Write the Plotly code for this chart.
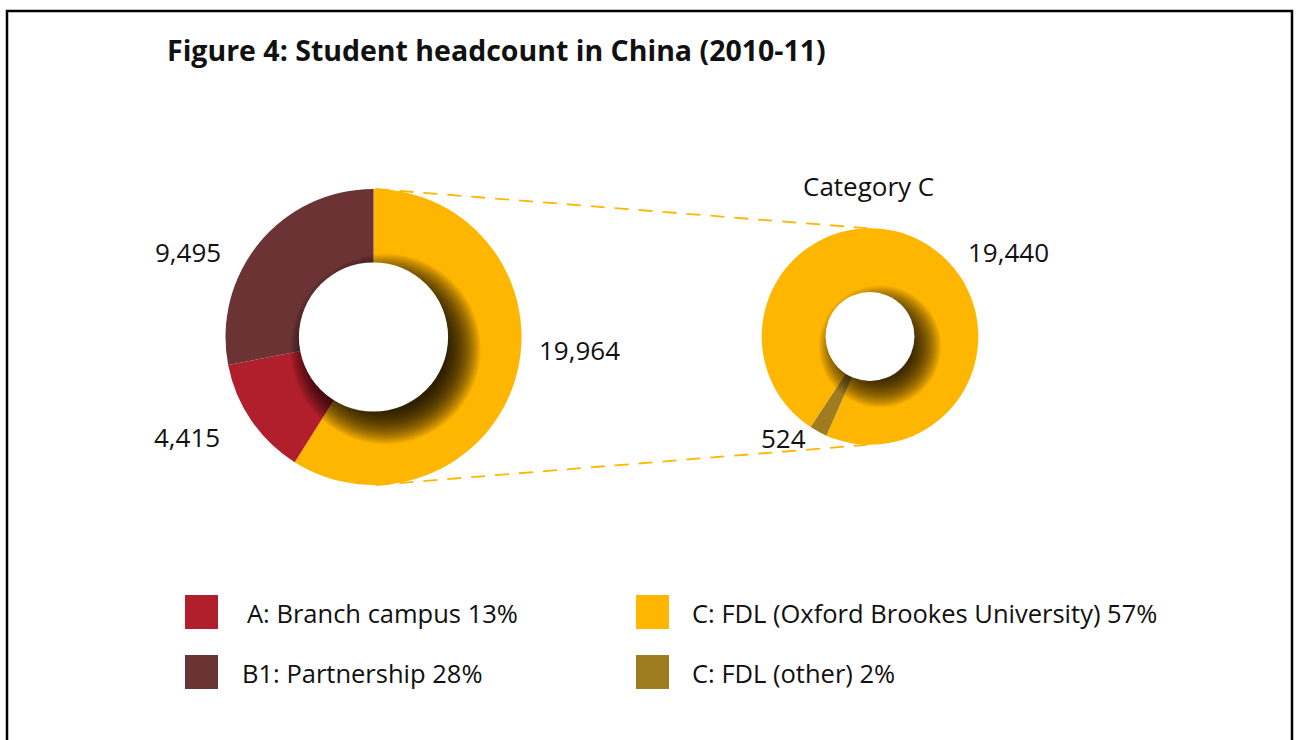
import plotly.graph_objects as go

W, H = 1299, 740

# ---------------- data ----------------
title_text = "Figure 4: Student headcount in China (2010-11)"
sub_title_text = "Category C"

main_cats = ["Category C", "A: Branch campus", "B1: Partnership"]
main_vals = [19964, 4415, 9495]
main_colors = ["#FFB600", "#B01F2B", "#6B3333"]

sub_cats = ["C: FDL (Oxford Brookes University)", "C: FDL (other)"]
sub_vals = [19440, 524]
sub_colors = ["#FFB600", "#A07C20"]

legend_names = ["A: Branch campus", "B1: Partnership",
                "C: FDL (Oxford Brookes University)", "C: FDL (other)"]
legend_vals = [4415, 9495, 19440, 524]
legend_colors = ["#B01F2B", "#6B3333", "#FFB600", "#A07C20"]

# ---------------- layout helpers (pixel -> paper) ----------------
def fx(x):
    return x / W


def fy(y):
    return 1 - y / H


FONT = "Open Sans"
TXT = "#111111"

L_cx, L_cy, L_r, L_hole = 373.5, 337.0, 148.0, 0.5
R_cx, R_cy, R_r, R_hole = 870.0, 336.5, 108.3, 0.405

fig = go.Figure()

fig.add_trace(go.Pie(
    values=main_vals, labels=main_cats, sort=False, direction="clockwise",
    rotation=0, hole=L_hole, textinfo="none", showlegend=False,
    marker=dict(colors=main_colors, line=dict(width=0)),
    domain=dict(x=[fx(L_cx - L_r), fx(L_cx + L_r)],
                y=[fy(L_cy + L_r), fy(L_cy - L_r)]),
))

fig.add_trace(go.Pie(
    values=sub_vals, labels=sub_cats, sort=False, direction="clockwise",
    rotation=213.2, hole=R_hole, textinfo="none", showlegend=False,
    marker=dict(colors=sub_colors, line=dict(width=0)),
    domain=dict(x=[fx(R_cx - R_r), fx(R_cx + R_r)],
                y=[fy(R_cy + R_r), fy(R_cy - R_r)]),
))

shapes = []


def circle(cx, cy, r, fill, layer="above"):
    return dict(type="circle", xref="paper", yref="paper",
                x0=fx(cx - r), x1=fx(cx + r), y0=fy(cy + r), y1=fy(cy - r),
                fillcolor=fill, line=dict(width=0), layer=layer)


def inner_shadow(cx, cy, r_outer, hole, off, lo, hi, step, alpha):
    rh = r_outer * hole
    out = []
    k = lo
    while k <= hi:
        out.append(circle(cx + off, cy + off, rh + k, f"rgba(0,0,0,{alpha})"))
        k += step
    out.append(circle(cx, cy, rh + 0.6, "white"))
    return out


shapes += inner_shadow(L_cx, L_cy, L_r, L_hole, 12, -12, 21, 1.5, 0.065)
shapes += inner_shadow(R_cx, R_cy, R_r, R_hole, 10, -10, 17, 1.5, 0.065)

# dashed connectors from main donut to the breakdown donut
for sgn in (-1, 1):
    shapes.append(dict(type="line", xref="paper", yref="paper",
                       x0=fx(L_cx + 2), y0=fy(L_cy + sgn * L_r),
                       x1=fx(R_cx - 3), y1=fy(R_cy + sgn * R_r),
                       line=dict(color="#FFB600", width=1.8, dash="14px,10px"),
                       layer="above"))

# outer frame
shapes.append(dict(type="rect", xref="paper", yref="paper",
                   x0=fx(7), x1=fx(1292), y0=fy(800), y1=fy(11),
                   line=dict(color="black", width=2.5), fillcolor="rgba(0,0,0,0)"))

annotations = []
annotations.append(dict(text=f"<b>{title_text}</b>", x=fx(165), y=fy(50),
                        xref="paper", yref="paper", xanchor="left", yanchor="middle",
                        showarrow=False, font=dict(family=FONT, size=28.5, color=TXT)))
annotations.append(dict(text=sub_title_text, x=fx(868), y=fy(186),
                        xref="paper", yref="paper", xanchor="center", yanchor="middle",
                        showarrow=False, font=dict(family=FONT, size=26, color=TXT)))

main_label_pos = [(579, 350), (187, 437), (188, 252)]
for v, (x, y) in zip(main_vals, main_label_pos):
    annotations.append(dict(text=f"{v:,}", x=fx(x), y=fy(y), xref="paper", yref="paper",
                            xanchor="center", yanchor="middle", showarrow=False,
                            font=dict(family=FONT, size=26, color=TXT)))

sub_label_pos = [(1008, 252), (783, 438)]
for v, (x, y) in zip(sub_vals, sub_label_pos):
    annotations.append(dict(text=f"{v:,}", x=fx(x), y=fy(y), xref="paper", yref="paper",
                            xanchor="center", yanchor="middle", showarrow=False,
                            font=dict(family=FONT, size=26, color=TXT)))

# custom legend
total = sum(legend_vals)
legend_sq = [(185, 595), (185, 655), (636, 595), (636, 655)]
legend_txt_x = [245, 240, 690, 690]
for name, v, col, (sx, sy), tx in zip(legend_names, legend_vals, legend_colors,
                                      legend_sq, legend_txt_x):
    shapes.append(dict(type="rect", xref="paper", yref="paper",
                       x0=fx(sx), x1=fx(sx + 33), y0=fy(sy + 34), y1=fy(sy),
                       fillcolor=col, line=dict(width=0)))
    pct = round(v / total * 100)
    annotations.append(dict(text=f"{name} {pct}%", x=fx(tx), y=fy(sy + 18),
                            xref="paper", yref="paper", xanchor="left", yanchor="middle",
                            showarrow=False, font=dict(family=FONT, size=25.5, color=TXT)))

fig.update_layout(
    width=W, height=H, margin=dict(l=0, r=0, t=0, b=0),
    paper_bgcolor="white", plot_bgcolor="white",
    shapes=shapes, annotations=annotations, showlegend=False,
)

fig.write_html("out.html", config={"displayModeBar": False},
               post_script="document.body.style.margin='0px';")
